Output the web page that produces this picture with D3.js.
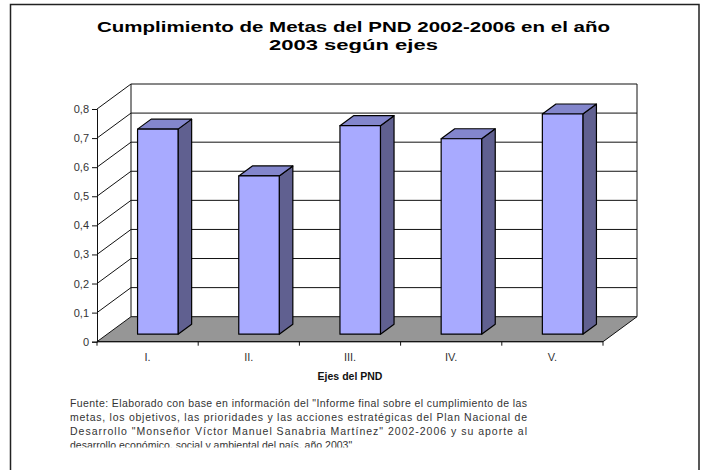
<!DOCTYPE html>
<html><head><meta charset="utf-8">
<script src="https://cdn.jsdelivr.net/npm/d3@7"></script>
<style>html,body{margin:0;padding:0;background:#fff;}svg{display:block;}</style>
</head><body>
<svg id="c" width="702" height="470"></svg>
<script>
const categories = ["I.", "II.", "III.", "IV.", "V."];
const values = [0.705, 0.544, 0.717, 0.672, 0.757];
const yTicks = [0, 0.1, 0.2, 0.3, 0.4, 0.5, 0.6, 0.7, 0.8];
const titleLines = ["Cumplimiento de Metas del PND 2002-2006 en el año", "2003 según ejes"];
const xTitle = "Ejes del PND";
const footLines = [
  "Fuente: Elaborado con base en información del \"Informe final sobre el cumplimiento de las",
  "metas, los objetivos, las prioridades y las acciones estratégicas del Plan Nacional de",
  "Desarrollo \"Monseñor Víctor Manuel Sanabria Martínez\" 2002-2006 y su aporte al",
  "desarrollo económico, social y ambiental del país, año 2003\""
];

const svg = d3.select("#c");
const font = "'Liberation Sans', Arial, sans-serif";

// frame
svg.append("path").attr("d","M10.5,475 V4.5 H699 V475").attr("fill","none").attr("stroke","#222").attr("stroke-width",1.5);

// title
const tl = svg.append("g").attr("font-family",font).attr("font-weight","bold").attr("font-size",15.5).attr("fill","#000").attr("text-anchor","middle");
tl.append("text").attr("x",353.5).attr("y",32).attr("textLength",513).attr("lengthAdjust","spacingAndGlyphs").text(titleLines[0]);
tl.append("text").attr("x",353.5).attr("y",49.7).attr("textLength",169).attr("lengthAdjust","spacingAndGlyphs").text(titleLines[1]);

// geometry
const x0 = 97, x1 = 603, DX = 34, DY = -25;
const x = d3.scaleBand().domain(categories).range([x0, x1]).padding(0);
const y = d3.scaleLinear().domain([0, 0.8]).range([341.7, 109]);
const Y0 = y(0);

// back wall
const wall = svg.append("g");
wall.append("rect").attr("x",x0+DX).attr("y",y(0.8)+DY).attr("width",x1-x0).attr("height",Y0-y(0.8)).attr("fill","#fff").attr("stroke","none");
// gridlines on back wall
wall.selectAll("line.g").data(yTicks.slice(1)).join("line")
  .attr("x1",x0+DX).attr("x2",x1+DX).attr("y1",d=>y(d)+DY).attr("y2",d=>y(d)+DY)
  .attr("stroke","#111").attr("stroke-width",1);
// back wall outline (left vertical + right vertical)
wall.append("line").attr("x1",x0+DX).attr("x2",x0+DX).attr("y1",y(0.8)+DY).attr("y2",Y0+DY).attr("stroke","#111");
wall.append("line").attr("x1",x1+DX).attr("x2",x1+DX).attr("y1",y(0.8)+DY).attr("y2",Y0+DY).attr("stroke","#111");
// side wall diagonals
wall.selectAll("line.s").data(yTicks.slice(1)).join("line")
  .attr("x1",x0).attr("x2",x0+DX).attr("y1",d=>y(d)).attr("y2",d=>y(d)+DY)
  .attr("stroke","#111").attr("stroke-width",1);

// floor
svg.append("path")
  .attr("d",`M${x0},${Y0} L${x1},${Y0} L${x1+DX},${Y0+DY} L${x0+DX},${Y0+DY} Z`)
  .attr("fill","#969696").attr("stroke","#111").attr("stroke-width",1);

// bars
const bw = x.bandwidth()/2.5;
const f = 0.3, bd = 0.4; // depth fractions
const bars = svg.append("g").attr("stroke","#000").attr("stroke-width",1.2).attr("stroke-linejoin","round");
categories.forEach((c,i)=>{
  const v = values[i];
  const fx = x(c) + (x.bandwidth()-bw)/2 + f*DX;
  const fy0 = Y0 + f*DY;
  const h = Y0 - y(v);
  const fy1 = fy0 - h;
  const ddx = bd*DX, ddy = bd*DY;
  // side
  bars.append("path").attr("d",`M${fx+bw},${fy0} L${fx+bw+ddx},${fy0+ddy} L${fx+bw+ddx},${fy1+ddy} L${fx+bw},${fy1} Z`).attr("fill","#606090");
  // top
  bars.append("path").attr("d",`M${fx},${fy1} L${fx+ddx},${fy1+ddy} L${fx+bw+ddx},${fy1+ddy} L${fx+bw},${fy1} Z`).attr("fill","#8386CC");
  // front
  bars.append("rect").attr("x",fx).attr("y",fy1).attr("width",bw).attr("height",h).attr("fill","#A8AAFF");
});

// axes
const yAxis = d3.axisLeft(y).tickValues(yTicks).tickSize(5).tickPadding(3)
  .tickFormat(d => d===0 ? "0" : d3.format(".1f")(d).replace(".", ","));
const ya = svg.append("g").attr("transform",`translate(${x0},0)`).call(yAxis);
ya.select(".domain").attr("stroke","#111");
ya.selectAll(".tick line").attr("stroke","#111");
ya.selectAll("text").attr("font-family",font).attr("font-size",11).attr("fill","#333");

const xa = svg.append("g").attr("transform",`translate(0,${Y0})`).call(d3.axisBottom(x).tickSize(0).tickPadding(12));
xa.select(".domain").remove();
xa.selectAll("text").attr("font-family",font).attr("font-size",11).attr("fill","#333");
svg.append("line").attr("x1",x0).attr("x2",x1).attr("y1",Y0).attr("y2",Y0).attr("stroke","#111");
svg.selectAll("line.xt").data(categories.map(c=>x(c)).concat([x1])).join("line").attr("class","xt")
  .attr("x1",d=>d).attr("x2",d=>d).attr("y1",Y0).attr("y2",Y0+4).attr("stroke","#111");

svg.append("text").attr("x",350).attr("y",380).attr("text-anchor","middle").attr("font-family",font)
  .attr("font-weight","bold").attr("font-size",10.5).attr("fill","#111").text(xTitle);

// footer
svg.append("clipPath").attr("id","fc").append("rect").attr("x",0).attr("y",380).attr("width",702).attr("height",67.5);
const fg = svg.append("g").attr("clip-path","url(#fc)").attr("font-family",font).attr("font-size",10.5).attr("fill","#333");
footLines.forEach((t,i)=>{
  const tx = fg.append("text").attr("x",70).attr("y",407+14*i).text(t);
  if (i<3) tx.attr("textLength",457).attr("lengthAdjust","spacing");
});
</script>
</body></html>
